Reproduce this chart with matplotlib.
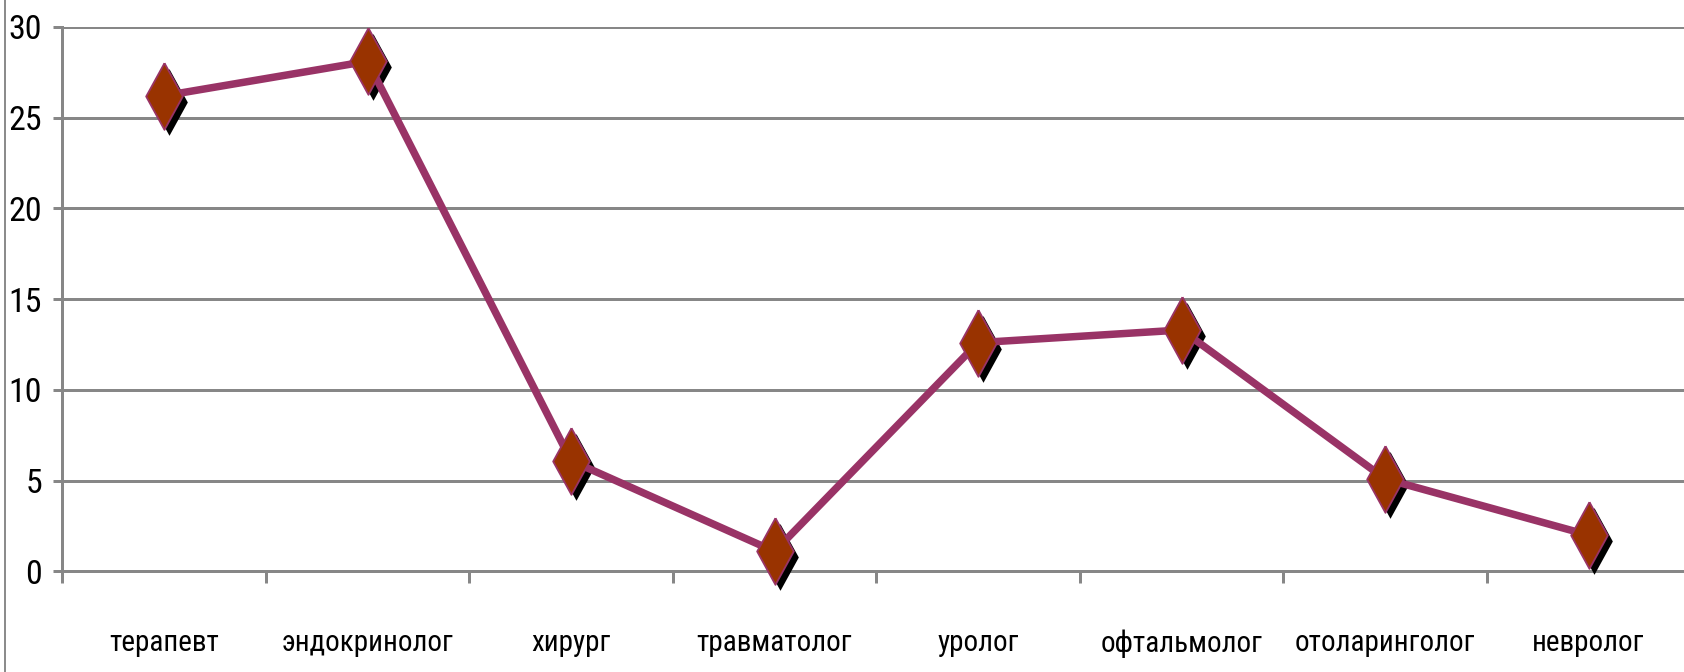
import matplotlib
matplotlib.use("Agg")
import matplotlib.pyplot as plt
from matplotlib import font_manager
from matplotlib.lines import Line2D
from matplotlib.transforms import offset_copy

categories = ["терапевт", "эндокринолог", "хирург", "травматолог",
              "уролог", "офтальмолог", "отоларинголог", "невролог"]
values = [26.2, 28.1, 6.1, 1.1, 12.6, 13.3, 5.1, 2.0]
y_ticks = [0, 5, 10, 15, 20, 25, 30]

LINE_COLOR = "#993366"
MARKER_FILL = "#993300"
GRID_COLOR = "#878787"

# narrow face for the labels if one is installed
installed = {f.name for f in font_manager.fontManager.ttflist}
family = "DejaVu Sans"
for cand in ["Roboto Condensed", "Liberation Sans Narrow", "Open Sans Condensed",
             "Noto Sans Condensed", "Arial Narrow"]:
    if cand in installed:
        family = cand
        break
plt.rcParams["font.family"] = [family, "DejaVu Sans"]
plt.rcParams["font.stretch"] = "condensed"

DPI = 100
px = 72.0 / DPI  # points per pixel

fig = plt.figure(figsize=(16.84, 6.72), dpi=DPI)
ax = fig.add_axes([62.3 / 1684, 100.6 / 672, 1628 / 1684, 544.6 / 672])

x = list(range(len(categories)))

# tall narrow diamond
diamond = [(0, 1), (0.55, 0), (0, -1), (-0.55, 0), (0, 1)]
MS = 48

shadow_tr = offset_copy(ax.transData, fig=fig, x=5, y=-6, units="dots")
ax.plot(x, values, linestyle="none", marker=diamond, markersize=MS,
        markerfacecolor="black", markeredgecolor="black", markeredgewidth=0,
        transform=shadow_tr, zorder=3, clip_on=False)
ax.plot(x, values, color=LINE_COLOR, linewidth=7.5 * px, zorder=4,
        solid_joinstyle="round", clip_on=False)
ax.plot(x, values, linestyle="none", marker=diamond, markersize=MS,
        markerfacecolor=MARKER_FILL, markeredgecolor=LINE_COLOR,
        markeredgewidth=1.8 * px, zorder=5, clip_on=False)

ax.set_xlim(-0.5, len(categories) - 0.5)
ax.set_ylim(0, 30)

ax.set_yticks(y_ticks)
ax.set_yticklabels([str(v) for v in y_ticks])
ax.set_xticks(x)
ax.set_xticklabels(categories)
ax.set_xticks([i - 0.5 for i in range(len(categories) + 1)], minor=True)

ax.yaxis.grid(True, color=GRID_COLOR, linewidth=3 * px, zorder=1)
ax.set_axisbelow(True)

ax.tick_params(axis="y", which="major", length=9 * px, width=3 * px,
               color=GRID_COLOR, pad=11 * px, labelsize=24.5, labelcolor="black")
ax.tick_params(axis="x", which="major", length=0, pad=58 * px,
               labelsize=21, labelcolor="black")
ax.tick_params(axis="x", which="minor", length=12 * px, width=3 * px,
               color=GRID_COLOR)

for side in ["top", "right"]:
    ax.spines[side].set_visible(False)
ax.spines["left"].set_color(GRID_COLOR)
ax.spines["left"].set_linewidth(3 * px)
ax.spines["bottom"].set_color(GRID_COLOR)
ax.spines["bottom"].set_linewidth(3 * px)

# outer chart-area border on the left
fig.add_artist(Line2D([5 / 1684, 5 / 1684], [0, 1], color="#8c8c8c",
                      linewidth=2 * px, transform=fig.transFigure))

fig.savefig("out.png", dpi=DPI)
